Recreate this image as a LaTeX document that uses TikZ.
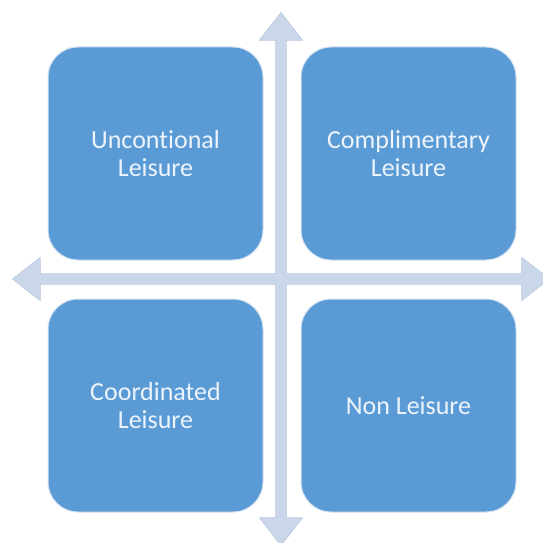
\documentclass[tikz,border=0pt]{standalone}
\usepackage{fontspec}
\setmainfont{Carlito}[Ligatures={NoCommon}]
\usepackage{tikz}
\usepackage{xcolor}
\usetikzlibrary{positioning, calc}

\definecolor{quadblue}{HTML}{5B9BD5}
\definecolor{quadrim}{HTML}{D6E4F3}
\definecolor{axisfill}{HTML}{CAD7EB}
\definecolor{axisrim}{HTML}{B3C3DC}
\definecolor{quadtext}{HTML}{EEF4FB}

\tikzset{
  quad/.style={fill=quadblue, draw=quadrim, line width=1pt, rounded corners=30pt,
    minimum width=215pt, minimum height=213pt, inner sep=0pt,
    text=quadtext, align=center,
    font=\fontsize{26}{28}\selectfont},
  axisline/.style={draw=axisrim, line width=1.2pt, line join=miter},
  axisbody/.style={fill=axisfill}
}

\begin{document}
\begin{tikzpicture}[x=1pt, y=-1pt]
\useasboundingbox (0,0) rectangle (543,543);
\clip (0,0) rectangle (543,543);
\fill[white] (0,0) rectangle (543,543);

% Axes centre
\coordinate (mid) at (281,279);

% Horizontal and vertical double arrows
\foreach \st in {axisline, axisbody} {
  \path[\st] ($(mid)+(-268,0)$) -- ++(27,-21) -- ++(0,16) -- ++(482,0) -- ++(0,-16)
    -- ++(27,21) -- ++(-27,21) -- ++(0,-16) -- ++(-482,0) -- ++(0,16) -- cycle;
  \path[\st] ($(mid)+(0,-266)$) -- ++(21,27) -- ++(-16,0) -- ++(0,478) -- ++(16,0)
    -- ++(-21,27) -- ++(-21,-27) -- ++(16,0) -- ++(0,-478) -- ++(-16,0) -- cycle;
}

% Quadrants
\node[quad] (unconv) at (155.5,153.5) {Uncontional\\Leisure};
\node[quad, right=37pt of unconv] (compl) {Complimentary\\Leisure};
\node[quad, below=38pt of unconv] (coord) {Coordinated\\Leisure};
\node[quad, below=38pt of compl] (nonleis) {Non Leisure};
\end{tikzpicture}
\end{document}
